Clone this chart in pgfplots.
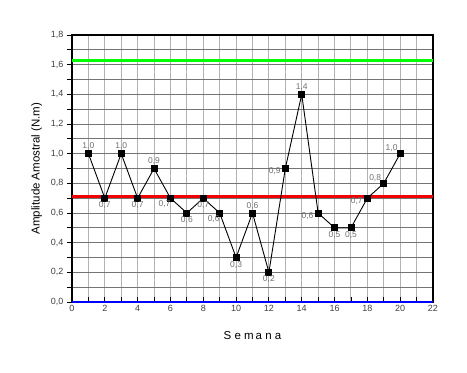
\documentclass[border=0pt]{standalone}
\usepackage{pgfplots}
\pgfplotsset{compat=1.18}
\usepackage{pgfplotstable}
\usepackage{fontspec}
\setmainfont{Liberation Sans}
\definecolor{lblgray}{HTML}{707070}
\pgfplotstableread{
x y lab
1 1.0 {1,0}
3 1.0 {1,0}
5 0.9 {0,9}
11 0.6 {0,6}
14 1.4 {1,4}
}\above
\pgfplotstableread{
x y lab
2 0.7 {0,7}
4 0.7 {0,7}
7 0.6 {0,6}
8 0.7 {0,7}
10 0.3 {0,3}
12 0.2 {0,2}
16 0.5 {0,5}
17 0.5 {0,5}
}\below
\pgfplotstableread{
x y lab
6 0.7 {0,7}
9 0.6 {0,6}
}\belowleft
\pgfplotstableread{
x y lab
13 0.9 {0,9}
15 0.6 {0,6}
18 0.7 {0,7}
}\leftlab
\pgfplotstableread{
x y lab
19 0.8 {0,8}
20 1.0 {1,0}
}\aboveleft
\begin{document}
\begin{tikzpicture}[x=1pt,y=1pt]
\useasboundingbox (-72,-71) rectangle (395,302);
\begin{axis}[
  at={(0,0)}, anchor=south west,
  scale only axis, width=361pt, height=267pt,
  xmin=0, xmax=22, ymin=0, ymax=1.8,
  xtick={0,2,...,22},
  ytick={0,0.2,...,1.8},
  minor x tick num=1, minor y tick num=1,
  grid=both,
  major x grid style={black!30, line width=1pt},
  minor x grid style={black!30, line width=1pt},
  major y grid style={black!55, line width=1pt},
  minor y grid style={black!55, line width=1pt},
  xtick pos=bottom, ytick pos=left,
  xtick align=inside, ytick align=outside,
  major tick length=5pt, minor tick length=5pt,
  axis line style={black, line width=1.1pt},
  tick style={black, line width=0.9pt},
  ticklabel style={font=\fontsize{9}{10}\selectfont, text=black!75},
  yticklabel style={/pgf/number format/.cd, fixed, fixed zerofill, precision=1, use comma},
  /pgf/number format/assume math mode=true,
  xlabel={S e m\,a n a},
  ylabel={Amplitude Amostral (N.m)},
  label style={font=\fontsize{11.5}{12}\selectfont},
  xlabel style={yshift=-13pt},
  ylabel style={yshift=2pt},
  clip=false,
  nodes near coords style={font=\fontsize{8.5}{9}\selectfont, text=lblgray, inner sep=1.5pt},
]
\addplot[line width=2.8pt, color={rgb,255:red,0;green,255;blue,0}] coordinates {(0,1.63) (22,1.63)};
\addplot[line width=2.8pt, color={rgb,255:red,240;green,0;blue,0}] coordinates {(0,0.71) (22,0.71)};
\addplot[line width=2.8pt, color={rgb,255:red,0;green,0;blue,255}] coordinates {(0,0) (22,0)};
\addplot[black, line width=0.9pt, mark=square*, mark size=3pt, mark options={fill=black}] coordinates {
(1,1.0) (2,0.7) (3,1.0) (4,0.7) (5,0.9) (6,0.7) (7,0.6) (8,0.7) (9,0.6) (10,0.3)
(11,0.6) (12,0.2) (13,0.9) (14,1.4) (15,0.6) (16,0.5) (17,0.5) (18,0.7) (19,0.8) (20,1.0)};
\addplot[draw=none, mark=none, point meta=explicit symbolic, nodes near coords,
  nodes near coords style={anchor=south, yshift=2pt}] table[x=x, y=y, meta=lab] {\above};
\addplot[draw=none, mark=none, point meta=explicit symbolic, nodes near coords,
  nodes near coords style={anchor=north, yshift=-2pt}] table[x=x, y=y, meta=lab] {\below};
\addplot[draw=none, mark=none, point meta=explicit symbolic, nodes near coords,
  nodes near coords style={anchor=north, xshift=-6pt, yshift=-1pt}] table[x=x, y=y, meta=lab] {\belowleft};
\addplot[draw=none, mark=none, point meta=explicit symbolic, nodes near coords,
  nodes near coords style={anchor=east, xshift=-3pt, yshift=-3pt}] table[x=x, y=y, meta=lab] {\leftlab};
\addplot[draw=none, mark=none, point meta=explicit symbolic, nodes near coords,
  nodes near coords style={anchor=south east, xshift=-1pt, yshift=0pt}] table[x=x, y=y, meta=lab] {\aboveleft};
\end{axis}
\end{tikzpicture}
\end{document}
